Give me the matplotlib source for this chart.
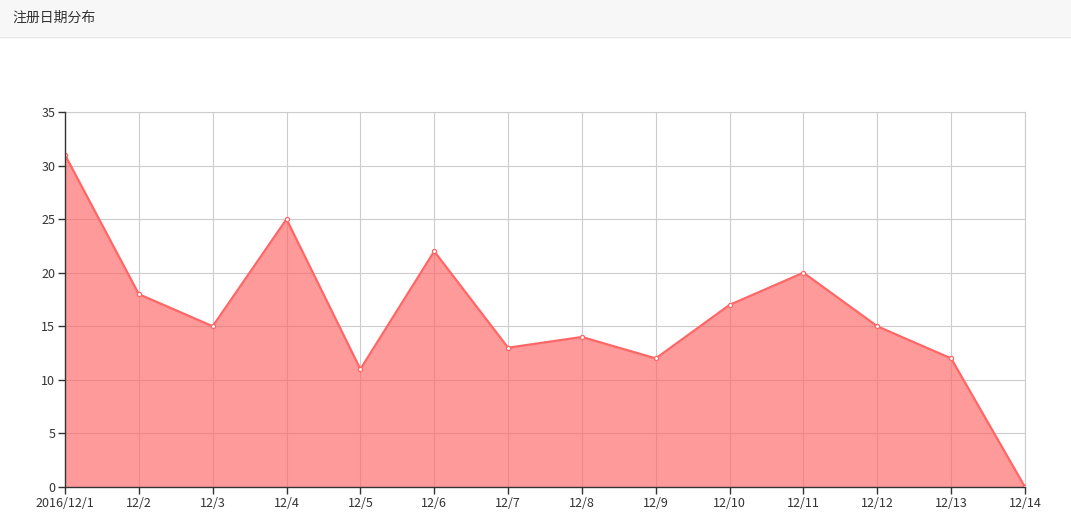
import matplotlib.pyplot as plt
import numpy as np

plt.rcParams['font.family'] = ['Noto Sans CJK SC', 'DejaVu Sans']

dates = ['2016/12/1', '12/2', '12/3', '12/4', '12/5', '12/6', '12/7',
         '12/8', '12/9', '12/10', '12/11', '12/12', '12/13', '12/14']
counts = [31, 18, 15, 25, 11, 22, 13, 14, 12, 17, 20, 15, 12, 0]
yticks = [0, 5, 10, 15, 20, 25, 30, 35]

fig = plt.figure(figsize=(10.71, 5.30), dpi=100)

# header bar
fig.patches.append(plt.Rectangle((0, 1 - 36/530), 1, 36/530, transform=fig.transFigure,
                                 facecolor='#f7f7f7', edgecolor='none', zorder=0))
fig.add_artist(plt.Line2D([0, 1], [1 - 36.5/530] * 2, transform=fig.transFigure,
                          color='#e5e5e5', lw=1))
fig.text(12/1071, 1 - 18/530, '注册日期分布', fontsize=10, color='#333333',
         va='center', ha='left')

ax = fig.add_axes([65/1071, 43/530, 960/1071, 375/530])
x = np.arange(len(dates))
ax.fill_between(x, counts, 0, color='#ff6666', alpha=0.66, lw=0, zorder=2)
ax.plot(x, counts, color='#ff6666', lw=1.6, zorder=3,
        marker='o', ms=3, mfc='white', mec='#ff6666', mew=0.9)

ax.set_xlim(0, len(dates) - 1)
ax.set_ylim(0, 35)
ax.set_xticks(x)
ax.set_xticklabels(dates)
ax.set_yticks(yticks)
ax.grid(True, color='#cccccc', lw=0.8, zorder=1)
ax.set_axisbelow(True)

for s in ['top', 'right']:
    ax.spines[s].set_color('#cccccc')
    ax.spines[s].set_linewidth(0.8)
for s in ['left', 'bottom']:
    ax.spines[s].set_color('#333333')
    ax.spines[s].set_linewidth(1)
    ax.spines[s].set_zorder(4)
ax.tick_params(length=5, width=1, color='#333333', labelsize=9,
               labelcolor='#333333', pad=2)

fig.savefig('out.png', dpi=100)
